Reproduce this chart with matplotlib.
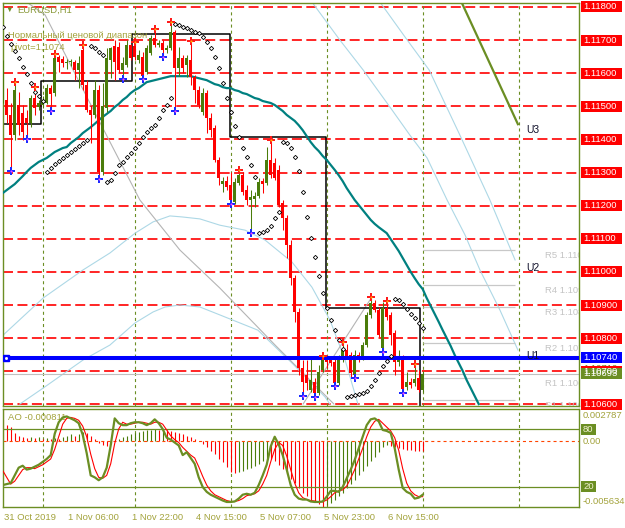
import numpy as np
import matplotlib
matplotlib.use("Agg")
import matplotlib.pyplot as plt
from matplotlib.patches import Rectangle

plt.rcParams['font.family'] = ['Liberation Sans', 'DejaVu Sans']
plt.rcParams['lines.scale_dashes'] = False

# EURUSD H1, bar 0 = 31 Oct 2019 14:00
opens = np.array([1.11519, 1.11519, 1.11474, 1.11413, 1.11504, 1.11480, 1.11465, 1.11450, 1.11525, 1.11498,
    1.11504, 1.11510, 1.11555, 1.11540, 1.11649, 1.11643, 1.11631, 1.11634, 1.11634, 1.11610,
    1.11670, 1.11564, 1.11489, 1.11474, 1.11549, 1.11302, 1.11495, 1.11640, 1.11682, 1.11679,
    1.11610, 1.11625, 1.11685, 1.11682, 1.11640, 1.11649, 1.11604, 1.11661, 1.11706, 1.11685,
    1.11691, 1.11670, 1.11676, 1.11724, 1.11616, 1.11646, 1.11625, 1.11640, 1.11588, 1.11549,
    1.11483, 1.11540, 1.11465, 1.11434, 1.11338, 1.11265, 1.11274, 1.11262, 1.11211, 1.11268,
    1.11292, 1.11247, 1.11217, 1.11220, 1.11229, 1.11274, 1.11268, 1.11338, 1.11329, 1.11308,
    1.11208, 1.11163, 1.11081, 1.10981, 1.10879, 1.10710, 1.10688, 1.10643, 1.10667, 1.10634,
    1.10704, 1.10737, 1.10734, 1.10728, 1.10664, 1.10734, 1.10764, 1.10749, 1.10688, 1.10749,
    1.10740, 1.10779, 1.10870, 1.10906, 1.10885, 1.10770, 1.10891, 1.10870, 1.10815, 1.10728,
    1.10740, 1.10652, 1.10667, 1.10664, 1.10679, 1.10643])
highs = np.array([1.11640, 1.11555, 1.11510, 1.11570, 1.11543, 1.11504, 1.11489, 1.11534, 1.11555, 1.11519,
    1.11531, 1.11567, 1.11564, 1.11655, 1.11655, 1.11652, 1.11643, 1.11643, 1.11640, 1.11652,
    1.11682, 1.11579, 1.11504, 1.11579, 1.11564, 1.11570, 1.11676, 1.11679, 1.11700, 1.11694,
    1.11649, 1.11700, 1.11688, 1.11691, 1.11670, 1.11664, 1.11685, 1.11715, 1.11730, 1.11700,
    1.11700, 1.11685, 1.11752, 1.11730, 1.11679, 1.11655, 1.11655, 1.11694, 1.11594, 1.11561,
    1.11555, 1.11549, 1.11480, 1.11443, 1.11347, 1.11286, 1.11289, 1.11302, 1.11283, 1.11305,
    1.11302, 1.11262, 1.11247, 1.11241, 1.11283, 1.11283, 1.11377, 1.11395, 1.11344, 1.11323,
    1.11217, 1.11172, 1.11096, 1.10990, 1.10891, 1.10734, 1.10734, 1.10743, 1.10679, 1.10719,
    1.10743, 1.10749, 1.10743, 1.10740, 1.10749, 1.10785, 1.10782, 1.10758, 1.10764, 1.10758,
    1.10788, 1.10879, 1.10921, 1.10915, 1.10894, 1.10909, 1.10909, 1.10879, 1.10824, 1.10764,
    1.10749, 1.10698, 1.10679, 1.10719, 1.10704, 1.10700])
lows = np.array([1.11510, 1.11450, 1.11308, 1.11398, 1.11413, 1.11398, 1.11404, 1.11437, 1.11474, 1.11489,
    1.11495, 1.11507, 1.11489, 1.11531, 1.11604, 1.11619, 1.11613, 1.11622, 1.11579, 1.11555,
    1.11549, 1.11483, 1.11389, 1.11465, 1.11283, 1.11292, 1.11483, 1.11585, 1.11579, 1.11601,
    1.11585, 1.11619, 1.11640, 1.11640, 1.11631, 1.11585, 1.11598, 1.11655, 1.11679, 1.11679,
    1.11652, 1.11661, 1.11670, 1.11489, 1.11591, 1.11601, 1.11588, 1.11564, 1.11510, 1.11495,
    1.11474, 1.11419, 1.11407, 1.11332, 1.11262, 1.11241, 1.11247, 1.11208, 1.11205, 1.11262,
    1.11232, 1.11202, 1.11120, 1.11196, 1.11223, 1.11238, 1.11262, 1.11283, 1.11277, 1.11196,
    1.11126, 1.11042, 1.10960, 1.10849, 1.10688, 1.10628, 1.10643, 1.10637, 1.10625, 1.10628,
    1.10698, 1.10710, 1.10716, 1.10658, 1.10658, 1.10728, 1.10740, 1.10682, 1.10682, 1.10728,
    1.10734, 1.10773, 1.10861, 1.10879, 1.10803, 1.10761, 1.10855, 1.10779, 1.10688, 1.10716,
    1.10637, 1.10643, 1.10649, 1.10655, 1.10637, 1.10637])
closes = np.array([1.11625, 1.11474, 1.11413, 1.11549, 1.11443, 1.11422, 1.11450, 1.11525, 1.11495, 1.11510,
    1.11519, 1.11555, 1.11537, 1.11646, 1.11634, 1.11631, 1.11634, 1.11637, 1.11610, 1.11631,
    1.11564, 1.11489, 1.11474, 1.11549, 1.11302, 1.11501, 1.11646, 1.11676, 1.11634, 1.11610,
    1.11631, 1.11685, 1.11646, 1.11649, 1.11655, 1.11591, 1.11676, 1.11706, 1.11685, 1.11691,
    1.11670, 1.11676, 1.11724, 1.11616, 1.11646, 1.11616, 1.11646, 1.11588, 1.11549, 1.11504,
    1.11540, 1.11465, 1.11428, 1.11338, 1.11283, 1.11274, 1.11256, 1.11217, 1.11271, 1.11292,
    1.11241, 1.11217, 1.11226, 1.11229, 1.11271, 1.11265, 1.11338, 1.11292, 1.11283, 1.11202,
    1.11163, 1.11081, 1.10981, 1.10879, 1.10710, 1.10667, 1.10664, 1.10673, 1.10634, 1.10698,
    1.10737, 1.10728, 1.10725, 1.10664, 1.10743, 1.10764, 1.10746, 1.10695, 1.10749, 1.10740,
    1.10779, 1.10870, 1.10906, 1.10885, 1.10809, 1.10891, 1.10864, 1.10809, 1.10728, 1.10743,
    1.10646, 1.10667, 1.10658, 1.10676, 1.10643, 1.10693])

# parabolic SAR
sar = np.array([1.11739, 1.11712, 1.11688, 1.11667, 1.11646, 1.11619, 1.11598, 1.11570, 1.11543, 1.11531,
    1.11516, 1.11302, 1.11314, 1.11326, 1.11335, 1.11344, 1.11353, 1.11362, 1.11371, 1.11380,
    1.11389, 1.11398, 1.11682, 1.11676, 1.11664, 1.11655, 1.11271, 1.11277, 1.11299, 1.11323,
    1.11332, 1.11347, 1.11359, 1.11374, 1.11389, 1.11407, 1.11422, 1.11434, 1.11443, 1.11465,
    1.11489, 1.11504, 1.11525, 1.11749, 1.11745, 1.11739, 1.11736, 1.11730, 1.11724, 1.11721,
    1.11709, 1.11694, 1.11676, 1.11649, 1.11616, 1.11570, 1.11525, 1.11483, 1.11440, 1.11407,
    1.11374, 1.11347, 1.11323, 1.11286, 1.11117, 1.11120, 1.11126, 1.11138, 1.11163, 1.11181,
    1.11392, 1.11389, 1.11374, 1.11347, 1.11305, 1.11241, 1.11166, 1.11102, 1.11045, 1.10987,
    1.10936, 1.10891, 1.10855, 1.10824, 1.10794, 1.10767, 1.10622, 1.10625, 1.10628, 1.10631,
    1.10634, 1.10640, 1.10655, 1.10673, 1.10695, 1.10716, 1.10731, 1.10746, 1.10918, 1.10915,
    1.10903, 1.10888, 1.10873, 1.10861, 1.10846, 1.10830])

# shifted moving average (runs past the last bar)
ma = np.array([1.11238, 1.11247, 1.11256, 1.11265, 1.11277, 1.11289, 1.11302, 1.11314, 1.11323, 1.11332,
    1.11338, 1.11344, 1.11353, 1.11362, 1.11368, 1.11374, 1.11377, 1.11389, 1.11398, 1.11407,
    1.11419, 1.11428, 1.11437, 1.11447, 1.11458, 1.11468, 1.11477, 1.11486, 1.11498, 1.11507,
    1.11519, 1.11528, 1.11540, 1.11549, 1.11555, 1.11564, 1.11573, 1.11576, 1.11579, 1.11582,
    1.11585, 1.11588, 1.11591, 1.11591, 1.11591, 1.11591, 1.11591, 1.11591, 1.11588, 1.11585,
    1.11582, 1.11579, 1.11573, 1.11567, 1.11564, 1.11558, 1.11555, 1.11555, 1.11549, 1.11546,
    1.11540, 1.11537, 1.11531, 1.11525, 1.11522, 1.11516, 1.11513, 1.11510, 1.11504, 1.11495,
    1.11486, 1.11474, 1.11465, 1.11456, 1.11443, 1.11428, 1.11410, 1.11392, 1.11377, 1.11365,
    1.11350, 1.11338, 1.11323, 1.11308, 1.11292, 1.11274, 1.11253, 1.11235, 1.11217, 1.11202,
    1.11187, 1.11172, 1.11157, 1.11145, 1.11135, 1.11126, 1.11117, 1.11099, 1.11081, 1.11063,
    1.11042, 1.11021, 1.11000, 1.10981, 1.10963, 1.10948, 1.10921, 1.10897, 1.10873, 1.10849,
    1.10824, 1.10800, 1.10776, 1.10749, 1.10725, 1.10701, 1.10673, 1.10649, 1.10625, 1.10601])

frac_up = [3, 8, 13, 20, 33, 38, 42, 47, 59, 67, 80, 85, 92, 96, 103]
frac_dn = [2, 6, 12, 24, 30, 35, 40, 43, 57, 62, 75, 78, 83, 88, 95, 100]

# daily "normal price range" boxes
day_starts = [10, 33, 57, 81, 105, 129]
range_edges = [0.075, 9.6, 32.4, 56.7, 80.9, 104.3]
range_levels = [1.11446, 1.11576, 1.11718, 1.11407, 1.10890]
pivot = 1.1074
pivot_names = ['R5', 'R4', 'R3', 'R2', 'R1', 'S1']
pivot_values = [1.11066, 1.10960, 1.10894, 1.10785, 1.10679, 1.10613]
bid = 1.10693

# channel / trend lines (bar index, price)
blue_a_x = [77.3, 84.3, 90.1, 96.8, 101.8, 106.1, 111.1, 115.6, 119.3, 124.3, 128.8]
blue_a_y = [1.11815, 1.11700, 1.11610, 1.11498, 1.11413, 1.11344, 1.11217, 1.11111, 1.11006, 1.10885, 1.10764]
blue_b_x = [94.3, 100.6, 106.6, 114.3, 121.8, 128.1]
blue_b_y = [1.11815, 1.11709, 1.11610, 1.11413, 1.11217, 1.11036]
blue_c_x = [0.1, 10.1, 20.1, 26.8, 33.1, 37.6, 41.8, 44.8, 49.3, 54.3, 60.6, 65.6, 72.3, 77.3, 81.8, 85.6, 88.8]
blue_c_y = [1.10809, 1.10921, 1.11006, 1.11057, 1.11117, 1.11151, 1.11169, 1.11166, 1.11160, 1.11141,
            1.11126, 1.11096, 1.11030, 1.10954, 1.10855, 1.10734, 1.10601]
blue_d_x = [4.3, 10.1, 20.1, 26.8, 33.1, 37.6, 40.6, 44.3, 49.3, 54.3, 63.8, 72.3, 80.6, 81.8]
blue_d_y = [1.10601, 1.10649, 1.10734, 1.10779, 1.10846, 1.10879, 1.10894, 1.10900, 1.10894, 1.10870,
            1.10824, 1.10725, 1.10622, 1.10601]
grey_a_x = [6.3, 10.6, 21.8, 34.3, 44.3, 54.3, 68.1, 81.8, 82.8]
grey_a_y = [1.11812, 1.11776, 1.11510, 1.11217, 1.11066, 1.10951, 1.10779, 1.10613, 1.10601]
grey_b_x = [75.1, 91.8]
grey_b_y = [1.10601, 1.10915]
u3_x = [114.8, 128.8]
u3_y = [1.11812, 1.11446]
u_names = ['U3', 'U2', 'U1']
u_values = [1.11428, 1.11012, 1.10746]
u_hidden = ['1.11410', '1.11010', '1.10710']

# Awesome Oscillator (x1e-4) and Stochastic
ao = np.array([27.87, 14, 12, 7, 4.5, 3.5, 3, 4, 3, 3.5, 2.5, 3, 2, 3, 2.5, 4, 5, 6, 5, 6.5,
    8, 7, 5, 2, -1, -3, -4, -2, 0.5, 2, 4, 5, 6, 7, 8, 9, 9.5, 10, 10.5, 10,
    10.5, 10, 9, 8, 7, 6, 5, 3.5, 2, 0, -2, -5, -8, -11, -15, -18, -22, -26, -27, -26,
    -25, -24, -23, -21, -19, -17, -14, -15, -17, -20, -24, -28, -32, -36, -40, -44, -47, -50, -52, -54,
    -56.34, -55, -53, -50, -47, -44, -40, -37, -33, -29, -25, -21, -17, -13, -9, -5, -3, -3.5, -5, -5.5,
    -6.5, -7, -7.5, -7.8, -8.0, -8.11]) * 1e-4
stoch_k = [22, 23, 24, 32, 40, 42, 38, 39, 41, 43, 46, 49, 53, 75, 87, 92, 93, 91, 89, 86,
    74, 55, 32, 30, 27, 30, 40, 63, 91, 86, 84, 84, 86, 87, 87, 86, 84, 86, 90, 86,
    80, 71, 69, 66, 63, 53, 56, 50, 44, 30, 20, 15, 12, 10, 8, 6, 4.5, 4.5, 5, 8,
    12, 13, 12, 14, 22, 32, 43, 62, 72, 64, 53, 38, 22, 12, 8, 7, 7, 5, 4.5, 4.5,
    5, 10, 16, 16, 15, 20, 29, 38, 48, 60, 72, 84, 90, 91, 88, 79, 78, 76, 60, 38,
    19, 15, 13, 8, 9, 12]
stoch_d = [37, 30, 23, 26, 32, 38, 40, 40, 39, 41, 43, 46, 49, 59, 72, 85, 91, 92, 91, 89,
    83, 72, 54, 39, 30, 29, 32, 44, 65, 80, 87, 85, 85, 86, 87, 87, 86, 85, 87, 87,
    85, 79, 73, 69, 66, 61, 57, 53, 50, 41, 31, 22, 16, 12, 10, 8, 6, 5, 5, 6,
    8, 11, 12, 13, 16, 23, 32, 46, 59, 66, 63, 52, 38, 24, 14, 9, 7, 6, 5.5, 4.7,
    4.7, 6.5, 10, 14, 16, 17, 21, 29, 38, 49, 60, 72, 82, 88, 90, 86, 82, 78, 71, 58,
    39, 24, 16, 12, 10, 10]
time_labels = ['31 Oct 2019', '1 Nov 06:00', '1 Nov 22:00', '4 Nov 15:00', '5 Nov 07:00', '5 Nov 23:00', '6 Nov 15:00']
time_label_bars = [0, 16, 32, 48, 64, 80, 96]

OLIVE = '#6b8e23'
KHAKI = '#a3a33c'
UPC = '#4a7c0a'
W, H = 625, 528

def fx(px):
    return px / W

def fy(py):
    return 1 - py / H

fig = plt.figure(figsize=(W / 100, H / 100), dpi=100)
ax = fig.add_axes([fx(3), fy(406), (579 - 3) / W, (406 - 3) / H])
sub = fig.add_axes([fx(3), fy(507), (579 - 3) / W, (507 - 409) / H])
xl = (0.075, 144.075)
for a in (ax, sub):
    a.set_xlim(*xl)
    a.set_xticks([])
    a.set_yticks([])
    for s in a.spines.values():
        s.set_color(OLIVE)
        s.set_linewidth(1.0)
ax.set_ylim(1.10595, 1.11812)

idx = np.arange(len(opens))
up = closes >= opens
cols = np.where(up, UPC, '#ff0000')

# red dashed price grid
levels = np.round(np.arange(1.1060, 1.11805, 0.001), 4)
for lv in levels:
    ax.axhline(lv, color='#ff0000', lw=1.2, dashes=(7.2, 3.2), zorder=1)
for d in day_starts:
    ax.axvline(d, color=OLIVE, lw=0.8, dashes=(2.2, 2.2), zorder=1)
    sub.axvline(d, color=OLIVE, lw=0.8, dashes=(2.2, 2.2), zorder=1)

for xs, ys in [(blue_a_x, blue_a_y), (blue_b_x, blue_b_y), (blue_c_x, blue_c_y), (blue_d_x, blue_d_y)]:
    ax.plot(xs, ys, color='#add8e6', lw=0.8, zorder=1.5)
for xs, ys in [(grey_a_x, grey_a_y), (grey_b_x, grey_b_y)]:
    ax.plot(xs, ys, color='#b4b4b4', lw=0.8, zorder=1.5)
ax.plot(u3_x, u3_y, color=OLIVE, lw=1.6, zorder=2)

ax.hlines(pivot_values, 105, 128, color='#c8c8c8', lw=0.9, zorder=1.6)
for n, v in zip(pivot_names, pivot_values):
    ax.text(135.6, v - 0.00017, f'{n} {v:.5f}', color='#c4c4c4', fontsize=6.8, va='center', clip_on=True, zorder=1.6)
ax.axhline(bid, color='#c0c0c0', lw=0.8, zorder=1.6)

# range boxes
sx, sy = [], []
for k, lv in enumerate(range_levels):
    sx += [range_edges[k], range_edges[k + 1]]
    sy += [lv, lv]
sx.append(range_edges[-1])
sy.append(1.1050)
ax.plot(sx, sy, color='black', lw=1.1, zorder=2)

ax.plot(np.arange(len(ma)), ma, color='#008080', lw=1.6, zorder=3)

# candles
ax.vlines(idx, lows, highs, colors=cols, lw=0.75, zorder=4)
ax.bar(idx, np.maximum(np.abs(closes - opens), 0.00002), bottom=np.minimum(opens, closes),
       width=0.8, color=cols, linewidth=0, zorder=4)

ax.axhline(pivot, color='#0000ff', lw=2.9, zorder=4.5)
ax.plot(0.7, pivot, 's', ms=5, color='#0000ff', zorder=6)
ax.plot(0.7, pivot, 's', ms=1.0, color='white', zorder=6.5)

ax.plot(idx, sar, ls='none', marker='D', ms=2.2, mfc='white', mec='black', mew=0.6, zorder=6)
ax.plot(frac_up, highs[frac_up] + 0.00003, ls='none', marker='P', ms=5.5, color='#ff1a1a', mew=0, zorder=6)
ax.plot(frac_up, highs[frac_up] + 0.00003, ls='none', marker='o', ms=1.5, color='#ffb000', mew=0, zorder=6.5)
ax.plot(frac_dn, lows[frac_dn] - 0.00003, ls='none', marker='P', ms=5.5, color='#1a2aff', mew=0, zorder=6)
ax.plot(frac_dn, lows[frac_dn] - 0.00003, ls='none', marker='o', ms=1.5, color='#ff40ff', mew=0, zorder=6.5)

for n, v in zip(u_names, u_values):
    ax.text(131.0, v, n, fontsize=7.5, color='#10102a', va='center', zorder=6)

# header texts
ax.text(fx(5), fy(10), '\u25bc', transform=fig.transFigure, fontsize=5.5, color=OLIVE, va='center', zorder=3)
ax.text(fx(17), fy(10), 'EURUSD,H1', transform=fig.transFigure, fontsize=6.8, color='#8a9a3a', va='center', zorder=3)
ax.text(fx(8), fy(36), 'Нормальный ценовой диапазон', transform=fig.transFigure, fontsize=6.8, color=KHAKI, va='center', zorder=3)
ax.text(fx(10), fy(48), 'pivot=' + f'{pivot:.4f}'.replace('.', ','), transform=fig.transFigure, fontsize=6.8, color=KHAKI, va='center', zorder=3)

# sub window
ao_min, ao_max = ao.min(), ao.max()
sub.set_ylim(ao_min, ao_max)
ao_col = ['#ff0000'] + [UPC if ao[i] > ao[i - 1] else '#ff0000' for i in range(1, len(ao))]
sub.vlines(idx, 0, ao, colors=ao_col, lw=0.8, zorder=2)
sub.axhline(0, color='#ff4500', lw=0.8, dashes=(2.2, 2.2), zorder=2)
st = sub.twinx()
st.set_xlim(*xl)
st.set_ylim(-0.7, 100.7)
st.axis('off')
st.axhline(80, color=OLIVE, lw=0.9)
st.axhline(20, color=OLIVE, lw=0.9)
st.plot(idx, stoch_d, color='#ff0000', lw=0.8)
st.plot(idx, stoch_k, color=OLIVE, lw=1.6)
sub.text(fx(8), fy(417), f'AO {ao[-1]:.6f}', transform=fig.transFigure, fontsize=6.8, color=KHAKI, va='center', zorder=5)

def yfrac(a, v):
    lo, hi = a.get_ylim()
    b = a.get_position()
    return b.y0 + (v - lo) / (hi - lo) * b.height

def tag(yf, text, bg, fg='white', w=41):
    if bg is not None:
        fig.add_artist(Rectangle((fx(581), yf - 5.5 / H), w / W, 11 / H, transform=fig.transFigure,
                                 facecolor=bg, edgecolor='none', zorder=2))
    fig.text(fx(583), yf, text, color=fg, fontsize=6.8, va='center', zorder=3)

# line values mostly hidden behind the price tags
for t in u_hidden:
    fig.text(fx(583), yfrac(ax, float(t)) - 1 / H, t, color=OLIVE, fontsize=6.8, va='center', zorder=1.5)
for lv in levels:
    tag(yfrac(ax, lv), f'{lv:.5f}', '#ff0000')
tag(yfrac(ax, pivot), f'{pivot:.5f}', '#0000ff')
tag(yfrac(ax, bid), f'{bid:.5f}', OLIVE)

tag(fy(416), f'{ao_max:.6f}', None, fg=KHAKI)
tag(yfrac(st, 80), '80', OLIVE, fg='#f0f0d0', w=15)
tag(yfrac(sub, 0), '0.00', None, fg=KHAKI)
tag(yfrac(st, 20), '20', OLIVE, fg='#f0f0d0', w=15)
tag(fy(501), f'{ao_min:.6f}', None, fg=KHAKI)

for b, t in zip(time_label_bars, time_labels):
    px = 2.7 + 4 * b
    fig.text(fx(px + 1), fy(518), t, fontsize=6.8, color=KHAKI, va='center')

fig.savefig('out.png', dpi=100)
